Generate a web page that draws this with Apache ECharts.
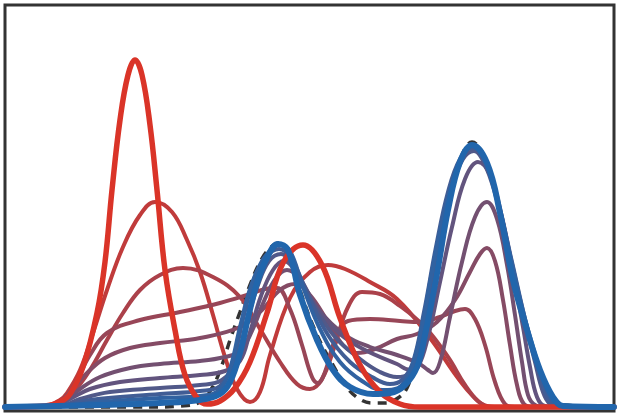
<!DOCTYPE html>
<html><head><meta charset="utf-8">
<script src="https://cdn.jsdelivr.net/npm/echarts@6/dist/echarts.min.js"></script>
<style>html,body{margin:0;padding:0;background:#fff}#c{width:620px;height:418px}</style>
</head><body><div id="c"></div><script>
// Each curve: [x, density] pairs (arbitrary units)
const step0 = [[5,0],[45,1],[60,5],[70,13],[83,40],[97,94],[105,145],[112,217],[120,287],[128,332],[135,347],[142,332],[150,282],[157,217],[165,137],[175,77],[185,32],[197,9],[207,3],[220,6],[235,19],[250,45],[267,94],[283,144],[303,162],[322,142],[340,89],[360,42],[380,15],[400,3],[420,0],[614,0]];
const step1 = [[5,0],[45,1],[60,7],[67,14],[80,37],[93,74],[107,117],[123,160],[140,192],[155,205],[172,195],[187,167],[200,135],[213,92],[225,50],[237,18],[250,5],[260,15],[270,52],[290,109],[310,135],[328,142],[345,138],[370,125],[397,108],[430,69],[455,33],[470,14],[482,3],[495,0],[614,0]];
const step2 = [[5,0],[45,1],[62,5],[73,14],[90,37],[107,67],[123,94],[140,117],[160,132],[183,139],[213,130],[240,110],[260,78],[280,45],[297,23],[310,18],[322,28],[335,62],[348,100],[362,115],[380,113],[400,101],[425,80],[448,50],[465,22],[478,6],[490,0],[614,0]];
const step3 = [[5,0],[50,1],[62,7],[73,20],[90,52],[107,74],[140,87],[180,95],[220,104],[250,113],[265,118],[277,119],[290,98],[302,62],[312,30],[318,24],[325,35],[335,67],[348,86],[370,88],[400,86],[420,85],[440,90],[455,96],[465,98],[475,88],[485,62],[495,25],[505,3],[515,0],[614,0]];
const step4 = [[5,0],[50,1],[60,5],[70,15],[85,32],[105,49],[130,59],[160,64],[200,69],[240,80],[262,97],[280,117],[295,123],[310,112],[328,85],[343,62],[357,54],[375,58],[397,68],[417,73],[437,85],[455,107],[470,135],[480,153],[487,159],[495,146],[503,107],[510,62],[517,22],[524,3],[535,0],[614,0]];
const step5 = [[5,0],[55,1],[65,6],[80,18],[100,30],[130,39],[160,43],[200,46],[225,50],[240,56],[252,76],[264,106],[276,129],[287,137],[298,130],[318,98],[345,72],[370,60],[397,52],[418,44],[428,37],[433,34],[440,45],[450,90],[462,145],[475,190],[487,205],[497,188],[507,142],[515,92],[522,45],[528,12],[535,2],[545,0],[614,0]];
const step6 = [[5,0],[55,1],[70,8],[90,18],[120,25],[160,29],[200,32],[225,36],[240,46],[250,75],[261,111],[273,137],[284,146],[296,135],[318,98],[340,73],[365,57],[397,43],[410,37],[418,40],[428,70],[440,125],[452,180],[465,228],[478,245],[490,232],[502,190],[513,135],[523,80],[530,40],[537,10],[545,1],[560,0],[614,0]];
const step7 = [[5,0],[60,1],[80,8],[110,15],[160,19],[200,22],[222,27],[236,46],[247,86],[258,122],[269,146],[281,153],[293,142],[313,103],[335,70],[360,48],[380,35],[397,30],[408,33],[418,55],[428,100],[440,170],[452,220],[463,248],[474,256],[486,240],[500,195],[512,140],[525,85],[535,45],[543,15],[550,3],[560,0],[614,0]];
const step8 = [[5,0],[60,1],[90,7],[160,13],[200,16],[220,21],[232,42],[243,88],[254,128],[266,150],[279,158],[291,149],[308,112],[328,72],[350,45],[372,30],[390,23],[402,27],[413,45],[424,95],[436,160],[448,215],[460,248],[472,259],[485,248],[498,205],[512,145],[525,88],[537,42],[545,15],[552,3],[562,0],[614,0]];
const step9 = [[5,0],[60,1],[100,5],[160,9],[200,11],[218,16],[229,35],[240,80],[250,118],[262,146],[273,159],[280,162],[290,156],[303,120],[320,78],[340,45],[362,26],[383,17],[398,19],[410,35],[421,75],[431,130],[441,180],[451,220],[462,250],[472,261],[484,250],[497,208],[510,152],[523,96],[535,53],[545,22],[553,6],[562,0],[614,0]];
const step10 = [[5,0],[100,2],[160,4],[200,7],[220,13],[230,25],[240,54],[248,89],[257,124],[267,149],[278,163],[288,157],[300,112],[317,67],[333,37],[350,20],[373,13],[390,14],[405,22],[417,40],[425,72],[432,107],[438,139],[448,197],[460,245],[472,262],[487,244],[500,194],[513,127],[527,77],[540,37],[553,10],[563,1],[614,0]];
const target = [[5,0],[150,0],[180,1],[200,5],[212,19],[222,42],[230,67],[240,95],[250,122],[260,145],[270,159],[279,164],[290,155],[300,117],[317,72],[333,42],[345,22],[358,9],[372,4],[386,4],[398,9],[407,19],[417,50],[425,80],[432,110],[440,148],[450,207],[460,247],[472,265],[487,244],[500,194],[513,127],[527,77],[540,37],[553,11],[565,2],[614,0]];

const steps = [step0, step1, step2, step3, step4, step5, step6, step7, step8, step9, step10];
const red = [218, 52, 40], blue = [33, 102, 172];
function mix(t) {
  const u = Math.pow(t, 0.85);
  const c = red.map((r, i) => Math.round(r + (blue[i] - r) * u));
  return 'rgb(' + c.join(',') + ')';
}
const series = [{
  type: 'line', data: target, smooth: 0.4, showSymbol: false, z: 1,
  lineStyle: { color: '#333', width: 3.5, type: [9, 7] }
}];
steps.forEach((d, i) => {
  const last = i === steps.length - 1;
  series.push({
    type: 'line', data: d, smooth: 0.4, showSymbol: false,
    z: last ? 5 : (i === 0 ? 4 : 2),
    lineStyle: { color: mix(i / (steps.length - 1)), width: last ? 6 : (i === 0 ? 5.5 : 4), cap: 'round', join: 'round' }
  });
});
const chart = echarts.init(document.getElementById('c'), null, { renderer: 'canvas' });
chart.setOption({
  animation: false,
  grid: { left: 5, right: 6, top: 5, bottom: 7, show: true, borderColor: '#333', borderWidth: 3, backgroundColor: '#fff' },
  xAxis: { type: 'value', min: 5, max: 614, show: false },
  yAxis: { type: 'value', min: -4, max: 402, show: false },
  series: series
});
</script></body></html>
